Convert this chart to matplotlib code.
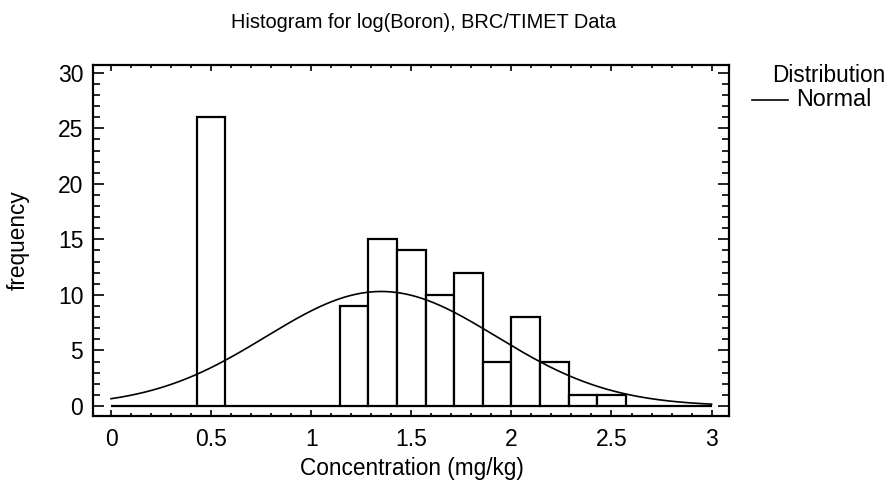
import numpy as np
import matplotlib
matplotlib.use("Agg")
import matplotlib.pyplot as plt
from matplotlib.ticker import MultipleLocator

plt.rcParams['font.family'] = ['Liberation Sans', 'DejaVu Sans']

# Histogram bins (21 bins of width 3/21 from 0 to 3)
bin_left = [0.0, 0.1429, 0.2857, 0.4286, 0.5714, 0.7143, 0.8571, 1.0, 1.1429, 1.2857,
            1.4286, 1.5714, 1.7143, 1.8571, 2.0, 2.1429, 2.2857, 2.4286, 2.5714, 2.7143, 2.8571]
bin_width = 0.1429
counts = [0, 0, 0, 26, 0, 0, 0, 0, 9, 15, 14, 10, 12, 4, 8, 4, 1, 1, 0, 0, 0]

# Fitted normal distribution parameters
n_obs = 104
fit_mean = 1.35
fit_sd = 0.575

title = "Histogram for log(Boron), BRC/TIMET Data"
xlabel = "Concentration (mg/kg)"
ylabel = "frequency"
xticks = [0, 0.5, 1, 1.5, 2, 2.5, 3]
xticklabels = ["0", "0.5", "1", "1.5", "2", "2.5", "3"]
yticks = [0, 5, 10, 15, 20, 25, 30]

fig = plt.figure(figsize=(8.91, 4.87), dpi=100)
ax = fig.add_axes([93/891, 1 - 416/487, (729-93)/891, (416-65)/487])

ax.bar(bin_left, counts, width=bin_width, align='edge', facecolor='white',
       edgecolor='black', linewidth=1.6, zorder=2)

xs = np.linspace(0, 3, 300)
ys = n_obs * bin_width * np.exp(-0.5 * ((xs - fit_mean) / fit_sd) ** 2) / (fit_sd * np.sqrt(2 * np.pi))
ax.plot(xs, ys, color='black', linewidth=1.2, zorder=3)

ax.set_xlim(-0.09, 3.087)
ax.set_ylim(-0.9, 30.7)
ax.set_xticks(xticks)
ax.set_xticklabels(xticklabels)
ax.set_yticks(yticks)
ax.xaxis.set_minor_locator(MultipleLocator(0.1))
ax.yaxis.set_minor_locator(MultipleLocator(1))
ax.tick_params(axis='x', which='major', direction='in', length=4.5, width=1.2,
               top=True, bottom=True, labelsize=16.5, pad=9)
ax.tick_params(axis='x', which='minor', direction='in', length=2.2, width=1.2,
               top=True, bottom=True)
ax.tick_params(axis='y', which='major', direction='in', length=8, width=1.2,
               left=True, right=True, labelsize=16.5, pad=7)
ax.tick_params(axis='y', which='minor', direction='in', length=5, width=1.2,
               left=True, right=True)
for s in ax.spines.values():
    s.set_linewidth(1.6)

fig.text(412/891, 1 - 468/487, xlabel, ha='center', va='center', fontsize=16.3)
fig.text(18/891, 1 - 240/487, ylabel, ha='center', va='center', rotation=90, fontsize=16.3)
fig.text(424/891, 1 - 22/487, title, ha='center', va='center', fontsize=14.4)

# Legend
fig.text(829/891, 1 - 75/487, "Distribution", ha='center', va='center', fontsize=16.3)
fig.lines.append(plt.Line2D([752/891, 788/891], [1 - 100/487, 1 - 100/487],
                            color='black', linewidth=1.2, transform=fig.transFigure))
fig.text(796/891, 1 - 100/487, "Normal", ha='left', va='center', fontsize=16.8)

fig.savefig("out.png", dpi=100)
